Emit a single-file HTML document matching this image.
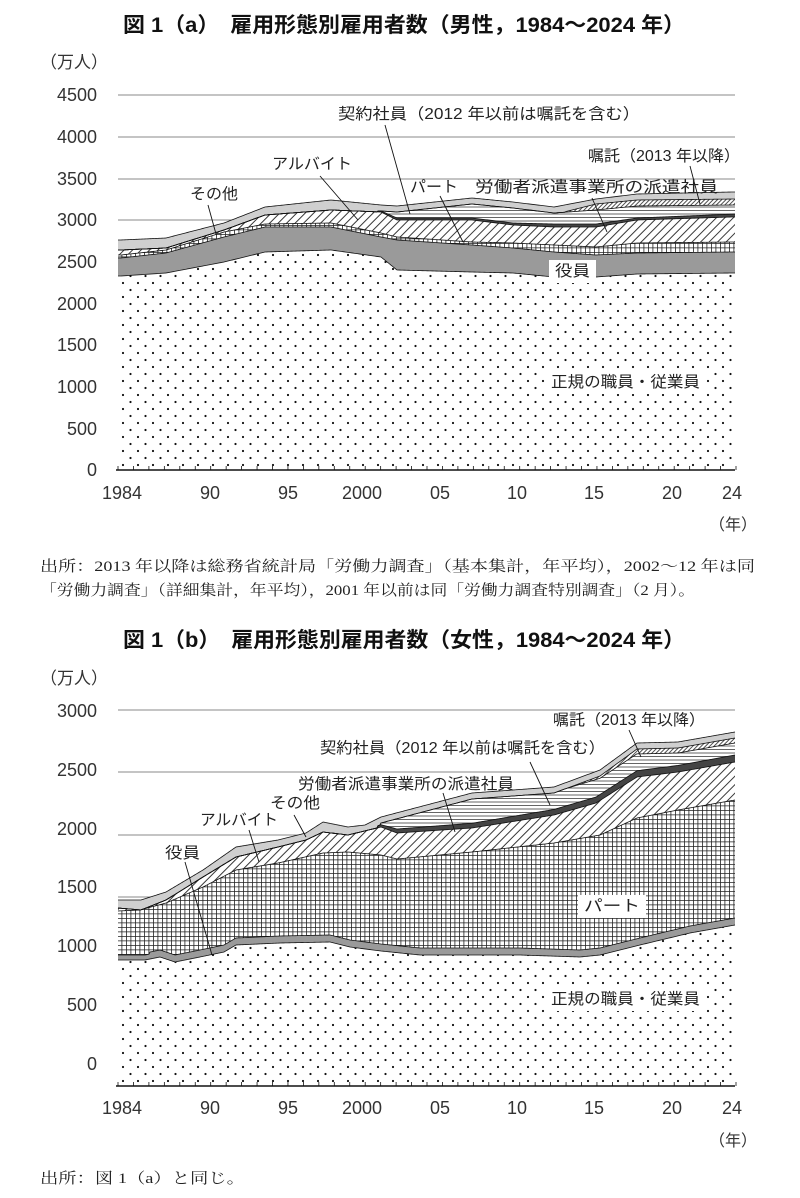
<!DOCTYPE html>
<html><head><meta charset="utf-8">
<style>
body{margin:0;background:#fff;}
svg{display:block;font-family:"Liberation Sans","Noto Sans CJK JP",sans-serif;}
.t{font-size:21px;font-weight:bold;fill:#111;}
.tk{font-size:18px;fill:#333;}
.lb{font-size:15.5px;fill:#222;}
.src{font-size:15px;fill:#222;font-family:"Liberation Serif","Noto Serif CJK SC",serif;}
</style></head><body>
<svg id="s" width="800" height="1198" viewBox="0 0 800 1198" xmlns="http://www.w3.org/2000/svg">
<defs>
<pattern id="dots" width="15" height="14" patternUnits="userSpaceOnUse"><rect width="15" height="14" fill="#fff"/><circle cx="3" cy="3" r="1.1" fill="#111"/><circle cx="10.5" cy="10" r="1.1" fill="#111"/></pattern>
<pattern id="grid" width="4.5" height="4.5" patternUnits="userSpaceOnUse"><rect width="4.5" height="4.5" fill="#fff"/><path d="M0 0.4H4.5M0.4 0V4.5" stroke="#222" stroke-width="0.8"/></pattern>
<pattern id="hatch" width="6" height="6" patternUnits="userSpaceOnUse" patternTransform="rotate(45)"><rect width="6" height="6" fill="#fff"/><path d="M0.5 0V6" stroke="#222" stroke-width="0.9"/></pattern>
<pattern id="hl" width="4" height="3.5" patternUnits="userSpaceOnUse"><rect width="4" height="3.5" fill="#fff"/><path d="M0 0.5H4" stroke="#222" stroke-width="0.7"/></pattern>
<pattern id="sh" width="3" height="3" patternUnits="userSpaceOnUse" patternTransform="rotate(45)"><rect width="3" height="3" fill="#fff"/><path d="M0.5 0V3" stroke="#222" stroke-width="0.8"/></pattern>
</defs>
<text class="t" x="123" y="32" textLength="562" lengthAdjust="spacingAndGlyphs">図 1（a）　雇用形態別雇用者数（男性，1984～2024 年）</text>
<text class="tk" x="40" y="68" style="font-size:17px">（万人）</text>
<text class="t" x="123" y="647" textLength="562" lengthAdjust="spacingAndGlyphs">図 1（b）　雇用形態別雇用者数（女性，1984～2024 年）</text>
<text class="tk" x="40" y="684" style="font-size:17px">（万人）</text>
<g id="ca"></g>
<g id="cb"></g>
<text class="src" x="40" y="571" textLength="715" lengthAdjust="spacingAndGlyphs">出所：2013 年以降は総務省統計局「労働力調査」（基本集計，年平均），2002～12 年は同</text>
<text class="src" x="40" y="595" textLength="655" lengthAdjust="spacingAndGlyphs">「労働力調査」（詳細集計，年平均），2001 年以前は同「労働力調査特別調査」（2 月）。</text>
<text class="src" x="40" y="1183" textLength="205" lengthAdjust="spacingAndGlyphs">出所：図 1（a）と同じ。</text>
</svg>
<script>
const NS="http://www.w3.org/2000/svg";
function el(p,tag,a,txt){const e=document.createElementNS(NS,tag);for(const k in a)e.setAttribute(k,a[k]);if(txt)e.textContent=txt;p.appendChild(e);return e;}
function ip(pts,x){if(x<=pts[0][0])return pts[0][1];for(let i=1;i<pts.length;i++){if(x<=pts[i][0]){const a=pts[i-1],b=pts[i];return a[1]+(b[1]-a[1])*(x-a[0])/(b[0]-a[0]);}}return pts[pts.length-1][1];}
const X0=118,X1=735;const xs=[];for(let x=X0;x<=X1;x+=1)xs.push(x);if(xs[xs.length-1]!=X1)xs.push(X1);
function draw(g,bnds,fills,base,grid,ylab,xlabY,nenY,axisY){
 grid.forEach(y=>el(g,'line',{x1:X0,x2:X1,y1:y,y2:y,stroke:'#888','stroke-width':0.9}));
 let prev=xs.map(()=>axisY);
 bnds.forEach((f,i)=>{const cur=xs.map(x=>Math.min(f(x),axisY));
  let d='M'+xs.map((x,j)=>x+' '+cur[j].toFixed(2)).join('L');
  for(let j=xs.length-1;j>=0;j--)d+='L'+xs[j]+' '+prev[j].toFixed(2);d+='Z';
  el(g,'path',{d:d,fill:fills[i],stroke:'none'});
  prev=cur;});
 bnds.forEach((f,i)=>{const cur=xs.map(x=>f(x));el(g,'path',{d:'M'+xs.map((x,j)=>x+' '+cur[j].toFixed(2)).join('L'),fill:'none',stroke:'#111','stroke-width':0.8});});
 el(g,'line',{x1:X0-2,x2:X1,y1:axisY,y2:axisY,stroke:'#111','stroke-width':1.4});
 for(let y=1984;y<=2024;y++){const x=X0+(y-1984)*15.45;el(g,'line',{x1:x,x2:x,y1:axisY,y2:axisY-4,stroke:'#111','stroke-width':0.8});}
 ylab.forEach(([v,y])=>el(g,'text',{class:'tk',x:97,y:y+6,'text-anchor':'end'},v));
 [['1984',122],['90',210],['95',288],['2000',362],['05',440],['10',517],['15',594],['20',672],['24',732]].forEach(([t,x])=>el(g,'text',{class:'tk',x:x,y:xlabY+6,'text-anchor':'middle'},t));
 el(g,'text',{class:'tk',x:733,y:nenY+6,'text-anchor':'middle',style:'font-size:16px'},'（年）');
}
function lbl(g,x,y,t,w,box){if(box){el(g,'rect',{x:x-6,y:y-16,width:w+12,height:23,fill:'#fff'});}el(g,'text',{class:'lb',x:x,y:y,textLength:w,lengthAdjust:'spacingAndGlyphs'},t);}
function ln(g,x1,y1,x2,y2){el(g,'line',{x1,y1,x2,y2,stroke:'#111','stroke-width':0.9});}
(function(){
const cx=[118,121,166,224,265,331,381,397,472,513,554,596,637,732,735];
function P(a){a=[a[0]].concat(a).concat([a[a.length-1]]);return cx.map((x,i)=>[x,a[i]]);}
const reg=P([276,273,262,252,250,257,270,272,273,277,277,274,273]);
const yak=P([258,253,237,227,227,237,240,245,248,252,255,253,252]);
const part=P([255,250,232,224,223,233,237,242,243,245,247,243,242]);
const arb=P([250,248,230,215,210,212,220,220,225,227,227,220,217]);
const hk=[[381,211],[397,218],[472,218],[513,223],[554,224],[596,224],[637,218],[735,214]];
const ct=[[381,211],[397,212],[472,204],[513,208],[554,213],[596,210],[637,206],[735,205]];
const sk=[[566,211.5],[596,204],[637,200],[735,199]];
const oth=P([240,238,223,207,200,205,206,198,202,207,199,194,192]);
const fR=x=>ip(reg,x),fY=x=>ip(yak,x),fP=x=>ip(part,x),fA=x=>ip(arb,x);
const fH=x=>x<378?fA(x):Math.min(fA(x),ip(hk,x));
const fC=x=>x<378?fH(x):Math.min(fH(x),ip(ct,x));
const fS=x=>x<566?fC(x):Math.min(fC(x),ip(sk,x));
const fO=x=>Math.min(fS(x),ip(oth,x));
const g=document.getElementById('ca');
draw(g,[fR,fY,fP,fA,fH,fC,fS,fO],['url(#dots)','#9a9a9a','url(#grid)','url(#hatch)','#444','url(#hl)','url(#sh)','#cfcfcf'],0,
 [95,137,179,220,262,304,345,387,429],[['4500',95],['4000',137],['3500',179],['3000',220],['2500',262],['2000',304],['1500',345],['1000',387],['500',429],['0',470]],493,524,470);
lbl(g,338,119,'契約社員（2012 年以前は嘱託を含む）',302);ln(g,385,125,410,214);
lbl(g,588,161,'嘱託（2013 年以降）',152);ln(g,690,166,700,204);
lbl(g,272,169,'アルバイト',80);ln(g,320,176,358,220);
lbl(g,190,199,'その他',48);ln(g,208,205,216,234);
lbl(g,410,192,'パート',48);ln(g,440,196,463,242);
lbl(g,475,192,'労働者派遣事業所の派遣社員',243);ln(g,592,198,607,232);
lbl(g,555,276,'役員',35,true);
lbl(g,551,387,'正規の職員・従業員',149,true);
})();
(function(){
const reg=[[118,960],[145,960],[160,957],[175,962],[200,957],[224,952],[236,945],[280,943],[330,942],[350,947],[381,951],[420,955],[472,955],[520,955],[580,957],[600,955],[640,945],[690,933],[735,925]];
const part=[[118,911],[140,910],[166,903],[203,887],[236,870],[278,863],[323,853],[348,852],[381,855],[397,859],[472,852],[554,843],[600,835],[637,818],[678,810],[735,800]];
const arb=[[118,908],[141,910],[166,900],[203,877],[236,857],[278,847],[306,840],[323,832],[348,835],[381,827],[397,833],[472,828],[554,815],[596,803],[637,777],[678,772],[735,762]];
const oth=[[118,900],[141,900],[166,892],[203,870],[236,847],[278,840],[306,833],[323,822],[348,827],[365,825],[381,817],[472,793],[554,787],[600,770],[637,743],[678,742],[735,732]];
const fR=x=>ip(reg,x),fY=x=>fR(x)-(x<150?5:7),fP=x=>Math.min(fY(x),ip(part,x)),fA=x=>Math.min(fP(x),ip(arb,x));
const ht=x=>x<378?0:(x<397?2+(x-378)/19*2:(x<600?4+(x-397)/203*2:6+(x-600)/135));
const fH=x=>fA(x)-ht(x);
const ob=x=>ip(oth,x)+6;
const fC=x=>x<381?fH(x):Math.min(fH(x),ob(x)+(x<566?0:Math.min(5,(x-566)/74*5)));
const fS=x=>x<381?fH(x):Math.min(fC(x),ob(x));
const fO=x=>Math.min(fS(x),ip(oth,x));
const g=document.getElementById('cb');
draw(g,[fR,fY,fP,fA,fH,fC,fS,fO],['url(#dots)','#9a9a9a','url(#grid)','url(#hatch)','#444','url(#hl)','url(#sh)','#cfcfcf'],0,
 [710,772,835,897,960,1022],[['3000',711],['2500',770],['2000',829],['1500',887],['1000',946],['500',1005],['0',1064]],1108,1140,1086);
lbl(g,553,725,'嘱託（2013 年以降）',152);ln(g,629,730,641,757);
lbl(g,320,753,'契約社員（2012 年以前は嘱託を含む）',285);ln(g,530,762,550,805);
lbl(g,298,789,'労働者派遣事業所の派遣社員',216);ln(g,443,793,455,832);
lbl(g,270,808,'その他',50);ln(g,294,815,306,837);
lbl(g,200,825,'アルバイト',78);ln(g,249,830,259,862);
lbl(g,165,858,'役員',35);ln(g,185,862,212,955);
lbl(g,584,911,'パート',56,true);
lbl(g,551,1004,'正規の職員・従業員',149,true);
})();
</script>
</body></html>
